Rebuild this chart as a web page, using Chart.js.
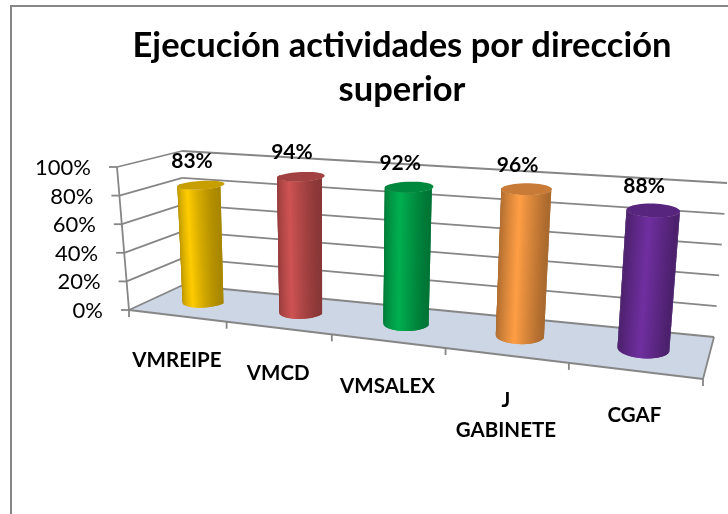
<!DOCTYPE html>
<html>
<head>
<meta charset="utf-8">
<script src="https://cdn.jsdelivr.net/npm/chart.js@4"></script>
<style>
  html, body { margin: 0; padding: 0; background: #fff; overflow: hidden; }
  #marco { position: absolute; left: 10px; top: 5px; width: 800px; height: 600px; border: 2px solid #868686; }
  #grafico { position: absolute; left: 0; top: 0; }
</style>
</head>
<body>
<div id="marco"></div>
<canvas id="grafico" width="728" height="514"></canvas>
<script>
const categorias = ['VMREIPE', 'VMCD', 'VMSALEX', ['J', 'GABINETE'], 'CGAF']
const valores = [83, 94, 92, 96, 88]
const titulo = ['Ejecución actividades por dirección', 'superior']

// esquinas de la caja 3D en la imagen
const sueloFI = [129, 310], sueloFD = [703, 379], sueloAI = [183, 285], sueloAD = [714, 337]
const techoFI = [117, 167], techoFD = [717, 212], techoAI = [182, 151], techoAD = [727, 183]

function mezcla(a, b, t) {
  return [a[0] + (b[0] - a[0]) * t, a[1] + (b[1] - a[1]) * t]
}

// u: a lo largo de las categorias, v: fondo (0 delante), w: altura (0 a 1)
function proyecta(u, v, w) {
  let f = u / (u + 1.22 * (1 - u))
  let suelo = mezcla(mezcla(sueloFI, sueloFD, f), mezcla(sueloAI, sueloAD, f), v)
  let techo = mezcla(mezcla(techoFI, techoFD, f), mezcla(techoAI, techoAD, f), v)
  return mezcla(suelo, techo, w)
}

function linea(ctx, a, b) {
  ctx.beginPath()
  ctx.moveTo(a[0], a[1])
  ctx.lineTo(b[0], b[1])
  ctx.stroke()
}

function sombra(hex, k) {
  let n = parseInt(hex.slice(1), 16)
  return `rgb(${(n >> 16) * k}, ${((n >> 8) & 255) * k}, ${(n & 255) * k})`
}

const caja3d = {
  id: 'caja3d',
  beforeDatasetsDraw(chart) {
    const ctx = chart.ctx
    const escalaY = chart.scales.y
    const area = chart.chartArea
    ctx.save()

    // suelo
    ctx.fillStyle = '#CDD6E4'
    ctx.beginPath()
    for (let p of [proyecta(0, 0, 0), proyecta(1, 0, 0), proyecta(1, 1, 0), proyecta(0, 1, 0)]) ctx.lineTo(p[0], p[1])
    ctx.closePath()
    ctx.fill()

    ctx.strokeStyle = '#868686'
    ctx.lineWidth = 1.8
    linea(ctx, proyecta(0, 0, 0), proyecta(1, 0, 0))
    linea(ctx, proyecta(1, 0, 0), proyecta(1, 1, 0))
    linea(ctx, proyecta(0, 0, 0), proyecta(0, 0, 1))

    // lineas de la cuadricula y marcas del eje de valores
    ctx.font = '22px Lato'
    ctx.fillStyle = '#000'
    ctx.textAlign = 'right'
    ctx.textBaseline = 'middle'
    for (let tick of escalaY.ticks) {
      let w = (area.bottom - escalaY.getPixelForValue(tick.value)) / area.height
      let frente = proyecta(0, 0, w)
      linea(ctx, frente, proyecta(0, 1, w))
      linea(ctx, proyecta(0, 1, w), proyecta(1, 1, w))
      linea(ctx, frente, [frente[0] - 8, frente[1]])
      ctx.fillText(tick.label, frente[0] - 26, frente[1] + 1)
    }

    // marcas y etiquetas del eje de categorias
    for (let i = 0; i <= categorias.length; i++) {
      let p = proyecta(i / categorias.length, 0, 0)
      linea(ctx, p, [p[0], p[1] + 7])
    }
    const escalaX = chart.scales.x
    ctx.font = 'bold 20.5px Lato'
    ctx.textAlign = 'center'
    categorias.forEach((c, i) => {
      let u = (escalaX.getPixelForValue(i) - area.left) / area.width
      let p = proyecta(u, 0, 0)
      let etiqueta = [].concat(chart.data.labels[i])
      etiqueta.forEach((texto, n) => ctx.fillText(texto, p[0], p[1] + 45 + n * 30))
    })
    ctx.restore()
  },
  beforeDatasetDraw(chart, args) {
    const ctx = chart.ctx
    const area = chart.chartArea
    const meta = args.meta
    ctx.save()
    meta.data.forEach((barra, i) => {
      let color = meta.controller.getDataset().backgroundColor[i]
      let u = (barra.x - area.left) / area.width
      let r = barra.width / 2 / area.width
      let w = (barra.base - barra.y) / area.height
      const circulo = (t, alto) => proyecta(u + r * Math.cos(t), 0.55 + 0.23 * Math.sin(t), alto)

      // cuerpo del cilindro, por tiras que se solapan con la siguiente
      let tiras = 48
      for (let n = 0; n < tiras; n++) {
        let t1 = Math.PI + Math.PI * n / tiras
        let t2 = Math.PI + Math.PI * Math.min(n + 2, tiras) / tiras
        let k = 0.66 + 0.34 * (1 - Math.abs(Math.cos((n + 0.5) / tiras * Math.PI)))
        ctx.fillStyle = sombra(color, k)
        ctx.beginPath()
        let arriba = circulo(t1, w)
        ctx.moveTo(arriba[0], arriba[1])
        for (let p of [circulo(t2, w), circulo(t2, 0), circulo(t1, 0)]) ctx.lineTo(p[0], p[1])
        ctx.closePath()
        ctx.fill()
      }

      // tapa
      ctx.fillStyle = sombra(color, 0.78)
      ctx.beginPath()
      for (let n = 0; n < 48; n++) {
        let p = circulo(n / 48 * 2 * Math.PI, w)
        ctx.lineTo(p[0], p[1])
      }
      ctx.closePath()
      ctx.fill()

      // valor encima
      let tapa = proyecta(u, 0.55, w)
      ctx.font = 'bold 21px Lato'
      ctx.fillStyle = '#000'
      ctx.textAlign = 'center'
      ctx.textBaseline = 'middle'
      ctx.fillText(valores[i] + '%', tapa[0] - 9, tapa[1] - 24)
    })
    ctx.restore()
    return false
  }
}

const grafico = document.getElementById('grafico')

new Chart(grafico, {
  type: 'bar',
  plugins: [caja3d],
  data: {
    labels: categorias,
    datasets: [{
      data: valores,
      backgroundColor: ['#FFCC00', '#CF5353', '#00B050', '#FF9E45', '#7030A0'],
      barPercentage: 0.40,
      categoryPercentage: 1
    }]
  },
  options: {
    responsive: false,
    animation: false,
    layout: { padding: { left: 68, top: 23, bottom: 20 } },
    plugins: {
      legend: { display: false },
      tooltip: { enabled: false },
      title: {
        display: true,
        fullSize: false,
        text: titulo,
        color: '#000',
        font: { family: 'Lato', size: 34.5, weight: 'bold', lineHeight: 1.3 },
        padding: 0
      }
    },
    scales: {
      x: { ticks: { display: false }, grid: { display: false }, border: { display: false } },
      y: {
        min: 0,
        max: 100,
        ticks: { display: false, stepSize: 20, callback: v => v + '%' },
        grid: { display: false },
        border: { display: false }
      }
    }
  }
})
</script>
</body>
</html>
